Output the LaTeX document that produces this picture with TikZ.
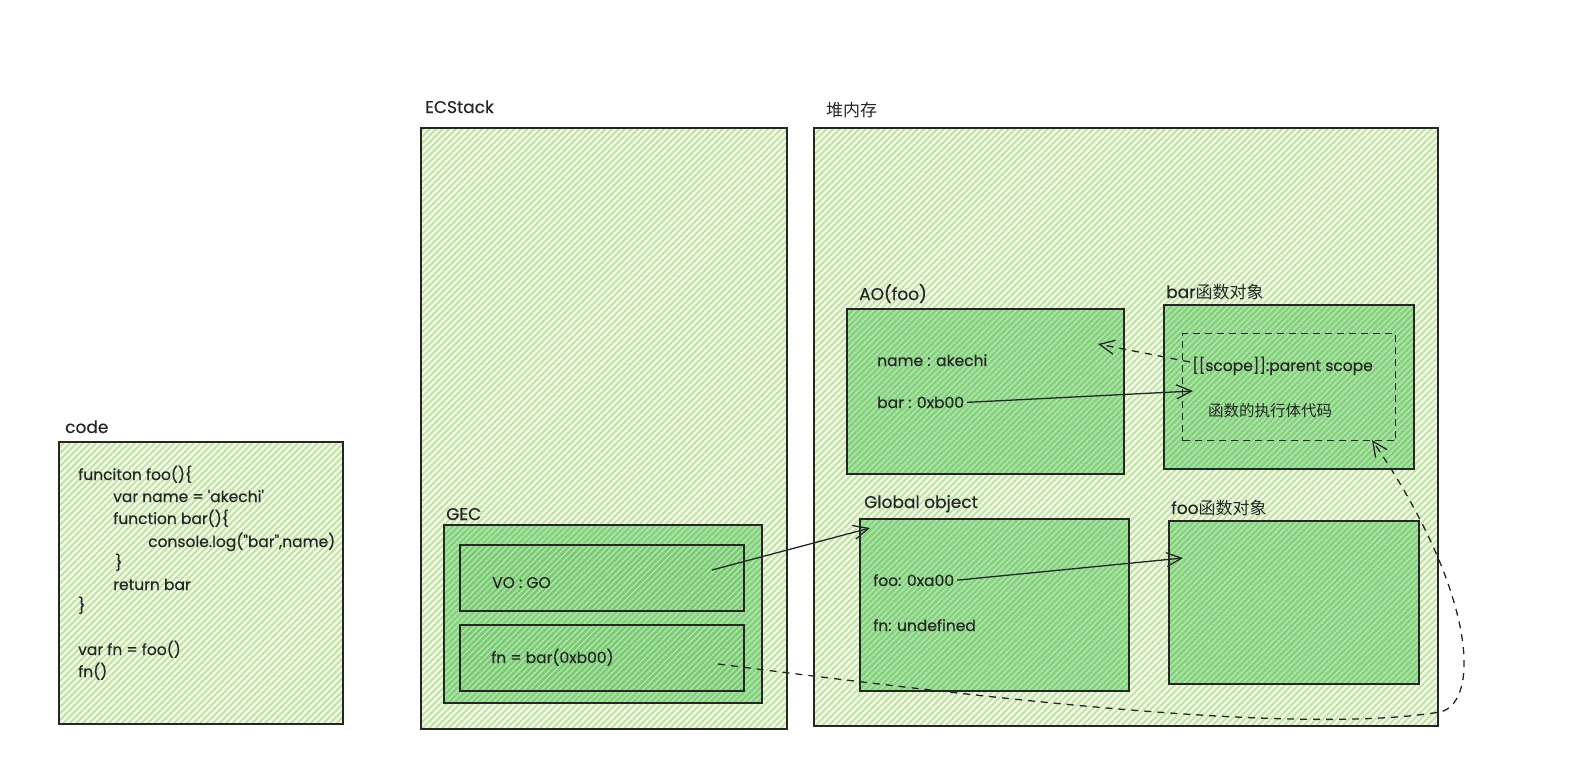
\documentclass[tikz,border=0pt]{standalone}
\usepackage{fontspec}
\setmainfont{Poppins}[FakeBold=0.4]
\newfontfamily\cjk{Noto Sans CJK SC}
\usetikzlibrary{arrows.meta,patterns.meta}

\definecolor{ink}{HTML}{262626}
\definecolor{paleg}{HTML}{F2F9EA}
\definecolor{hatchg}{HTML}{BFE39F}
\definecolor{innerg}{HTML}{84D17F}
\definecolor{innerhatch}{HTML}{B4E7AB}
\definecolor{deepg}{HTML}{7BCA76}

\begin{document}
\begin{tikzpicture}[x=1pt,y=-1pt,
  outerbox/.style={draw=ink, line width=1.6pt, inner sep=0pt,
    preaction={fill=paleg},
    preaction={pattern={Lines[angle=45,distance=4.6pt,line width=1.9pt]}, pattern color=hatchg}},
  innerbox/.style={draw=ink, line width=1.6pt, inner sep=0pt,
    preaction={fill=innerg},
    preaction={pattern={Lines[angle=45,distance=4.2pt,line width=1.4pt]}, pattern color=innerhatch}},
  slotbox/.style={draw=ink, line width=1.6pt, inner sep=0pt,
    preaction={fill=deepg},
    preaction={pattern={Lines[angle=45,distance=4.2pt,line width=1.3pt]}, pattern color=innerhatch}},
  dashbox/.style={draw=ink, line width=1.3pt, dash pattern=on 7pt off 5pt, inner sep=0pt},
  lbl/.style={font=\fontsize{17}{19}\selectfont, text=ink, inner sep=0pt, anchor=base west},
  txt/.style={font=\fontsize{15.5}{18}\selectfont, text=ink, inner sep=0pt, anchor=base west},
  arr/.style={draw=ink, line width=1.3pt, -{Straight Barb[length=15pt,width=14pt,line width=1.3pt]}},
  dasharr/.style={arr, dash pattern=on 7pt off 6pt},
]
\useasboundingbox (0,0) rectangle (1582,780);

% ---- source code panel ----
\node[outerbox, anchor=north west, minimum width=284pt, minimum height=282pt] (code) at (58,441) {};
\node[lbl] (codel) at (65,433) {code};
\node[txt] (c1)  at (78,480)  {funciton foo()\{};
\node[txt] (c2)  at (113,502) {var name = \textquotesingle akechi\textquotesingle};
\node[txt] (c3)  at (113,524) {function bar()\{};
\node[txt] (c4)  at (148,547) {console.log(\textquotedbl bar\textquotedbl,name)};
\node[txt] (c5)  at (115,568) {\}};
\node[txt] (c6)  at (113,590) {return bar};
\node[txt] (c7)  at (78,611)  {\}};
\node[txt] (c8)  at (78,655)  {var fn = foo()};
\node[txt] (c9)  at (78,677)  {fn()};

% ---- execution context stack ----
\node[outerbox, anchor=north west, minimum width=366pt, minimum height=601pt] (stack) at (420,127) {};
\node[lbl] (stackl) at (425,113) {ECStack};

\node[innerbox, anchor=north west, minimum width=318pt, minimum height=178pt] (gec) at (443,524) {};
\node[lbl] (gecl) at (446,520) {GEC};
\node[slotbox, anchor=north west, minimum width=284pt, minimum height=66pt] (vo) at (459,544) {};
\node[txt] (vot) at (492,588) {VO : GO};
\node[slotbox, anchor=north west, minimum width=284pt, minimum height=66pt] (fnslot) at (459,624) {};
\node[txt] (fnt) at (491,663) {fn = bar(0xb00)};

% ---- heap ----
\node[outerbox, anchor=north west, minimum width=624pt, minimum height=598pt] (heap) at (813,127) {};
\node[lbl] (heapl) at (826,116) {\cjk 堆内存};

% activation object of foo
\node[innerbox, anchor=north west, minimum width=277pt, minimum height=165pt] (ao) at (846,308) {};
\node[lbl] (aol) at (859,300) {AO(foo)};
\node[txt] (aoname) at (877,366) {name : akechi};
\node[txt] (aobar)  at (877,408) {bar : 0xb00};

% function object of bar
\node[innerbox, anchor=north west, minimum width=250pt, minimum height=164pt] (barobj) at (1163,304) {};
\node[lbl] (barl) at (1166,298) {bar{\cjk 函数对象}};
\node[dashbox, anchor=north west, minimum width=213pt, minimum height=107pt] (scope) at (1182,333) {};
\node[txt] (scopet) at (1192,371) {[[scope]]:parent scope};
\node[txt] (bodyt)  at (1208,416) {\cjk 函数的执行体代码};

% global object
\node[innerbox, anchor=north west, minimum width=269pt, minimum height=172pt] (glob) at (859,518) {};
\node[lbl] (globl) at (864,508) {Global object};
\node[txt] (gfoo) at (873,586) {foo: 0xa00};
\node[txt] (gfn)  at (873,631) {fn: undefined};

% function object of foo
\node[innerbox, anchor=north west, minimum width=250pt, minimum height=163pt] (fooobj) at (1168,520) {};
\node[lbl] (fool) at (1171,514) {foo{\cjk 函数对象}};

% ---- connector end points ----
\coordinate (votail)   at (712,570);
\coordinate (globtip)  at (870,528);
\coordinate (bartip)   at (1193,391);
\coordinate (footip)   at (1183,558);
\coordinate (scopetail) at (1190,362);
\coordinate (aotip)    at (1098,344);
\coordinate (fntail)   at (718,664);
\coordinate (scopetip) at (1372,440);

% ---- references ----
\draw[arr] (votail) -- (globtip);
\draw[arr] ([xshift=3pt]aobar.east) -- (bartip);
\draw[arr] ([xshift=3pt]gfoo.east) -- (footip);
\draw[dasharr] (scopetail) -- (aotip);
\draw[dasharr] (fntail) .. controls (1000,700) and (1300,735) .. (1440,712)
               .. controls (1480,703) and (1478,595) .. (scopetip);
\end{tikzpicture}
\end{document}
